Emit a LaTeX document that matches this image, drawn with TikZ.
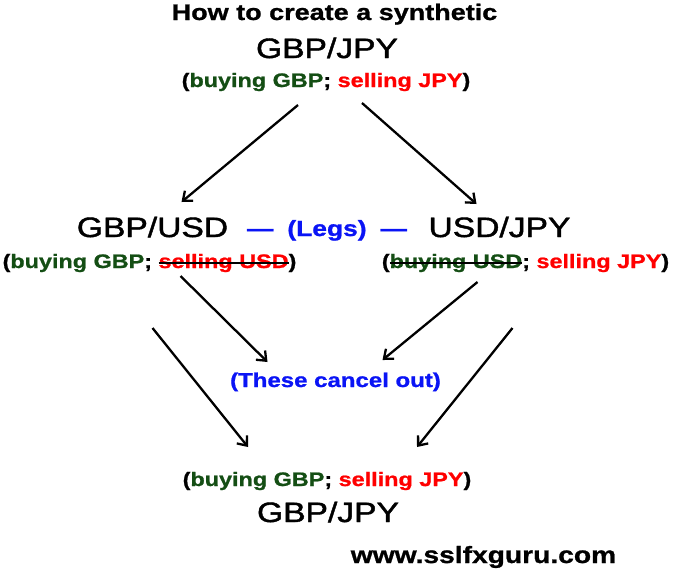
\documentclass[tikz,border=0pt]{standalone}
\usepackage{fontspec}
\setmainfont[FakeStretch=1.2,
  UprightFeatures={FakeBold=1.5},
  BoldFeatures={FakeBold=1.0}]{Liberation Sans}
\usetikzlibrary{calc,arrows.meta}
\definecolor{buygreen}{RGB}{20,78,20}
\definecolor{sellred}{RGB}{255,0,0}
\definecolor{legblue}{RGB}{10,20,245}
\newsavebox{\strikebox}
\newcommand{\buy}[1]{\textcolor{buygreen}{#1}}
\newcommand{\sell}[1]{\textcolor{sellred}{#1}}
\newcommand{\crossed}[2]{\sbox{\strikebox}{\color{#1}#2}%
  \rlap{\usebox{\strikebox}}{\color{black}\rule[0.23em]{\wd\strikebox}{1.9pt}}}

\begin{document}
\begin{tikzpicture}[x=1pt, y=-1pt,
    pair/.style={anchor=base, inner sep=0pt, font=\fontsize{28}{30}\selectfont},
    trade/.style={anchor=base, inner sep=0pt, font=\fontsize{19.5}{22}\selectfont\bfseries},
    note/.style={anchor=base, inner sep=0pt, text=legblue,
                 font=\fontsize{20}{22}\selectfont\bfseries},
    leg/.style={-{Straight Barb[length=8pt,width=13pt]}, line width=2.3pt}
]
\useasboundingbox (0,0) rectangle (676,574);

% --- Heading: the synthetic pair ---
\node[anchor=base, inner sep=0pt, font=\fontsize{22.5}{24}\selectfont\bfseries]
    (title) at (334.5, 20) {How to create a synthetic};
\node[pair]  (topbig) at (327, 58) {GBP/JPY};
\node[trade] (topsub) at (326, 87) {(\buy{buying GBP}; \sell{selling JPY})};

% --- The two legs ---
\node[pair]  (gbpusd) at (152.5, 237) {GBP/USD};
\node[pair]  (usdjpy) at (499.5, 237) {USD/JPY};
\node[note, font=\fontsize{22}{24}\selectfont\bfseries]
    (legs) at (327, 236) {---\hspace{14pt}(Legs)\hspace{14pt}---};
\node[trade] (leftsub)  at (149.5, 268)
    {(\buy{buying GBP}; \crossed{sellred}{selling USD})};
\node[trade] (rightsub) at (525.5, 268)
    {(\crossed{buygreen}{buying USD}; \sell{selling JPY})};

% --- Middle note ---
\node[note] (cancel) at (335.5, 387) {(These cancel out)};

% --- Result ---
\node[trade] (botsub) at (327, 486) {(\buy{buying GBP}; \sell{selling JPY})};
\node[pair]  (botbig) at (328, 522) {GBP/JPY};

\node[anchor=base, inner sep=0pt, font=\fontsize{23.5}{25}\selectfont\bfseries]
    (site) at (483.5, 563) {www.sslfxguru.com};

% --- Arrows ---
\draw[leg] ($(topsub.base)+(-28,18)$) -- ($(gbpusd.base)+(29,-35)$);
\draw[leg] ($(topsub.base)+(36,16)$) -- ($(usdjpy.base)+(-23,-33)$);
\draw[leg] ($(leftsub.base)+(31,8)$) -- ($(cancel.base)+(-68,-25)$);
\draw[leg] ($(rightsub.base)+(-48,14)$) -- ($(cancel.base)+(47,-27)$);
\draw[leg] ($(leftsub.base)+(3,60)$) -- ($(botsub.base)+(-79,-39)$);
\draw[leg] ($(rightsub.base)+(-13,60)$) -- ($(botsub.base)+(90,-39)$);

\end{tikzpicture}
\end{document}
